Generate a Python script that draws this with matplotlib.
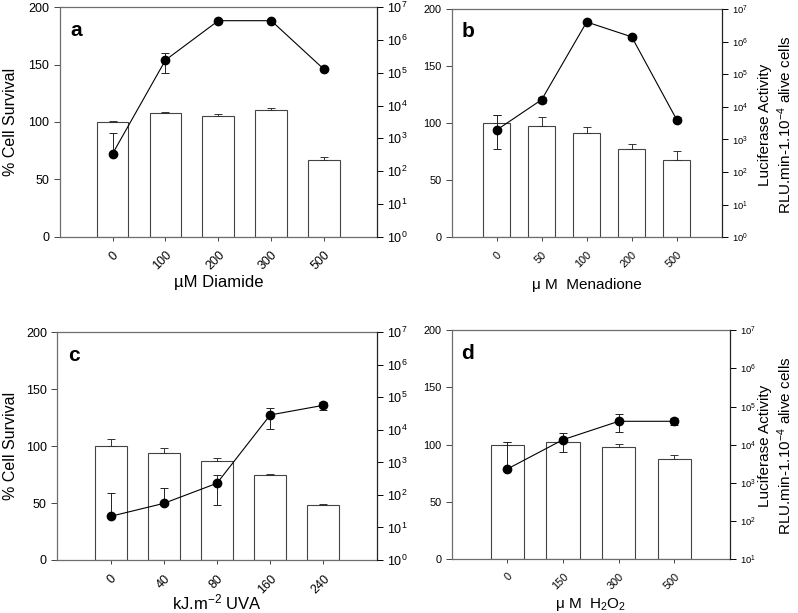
import numpy as np
import matplotlib
matplotlib.use("Agg")
import matplotlib.pyplot as plt
from matplotlib.ticker import LogLocator, NullLocator
from matplotlib.transforms import blended_transform_factory

plt.rcParams['font.family'] = ['Liberation Sans', 'DejaVu Sans']
plt.rcParams['mathtext.fontset'] = 'custom'
plt.rcParams['mathtext.rm'] = 'Liberation Sans'
plt.rcParams['mathtext.it'] = 'Liberation Sans:italic'
plt.rcParams['mathtext.bf'] = 'Liberation Sans:bold'

# ---------------- data ----------------
a_labels = ["0", "100", "200", "300", "500"]
a_surv = [100, 107.5, 105, 110.5, 67]
a_surv_err = [1.3, 1.0, 1.7, 1.5, 2.6]
a_luc = [340, 2.45e5, 3.9e6, 3.9e6, 1.27e5]
a_luc_hi = [1450, 3.9e5, 3.9e6, 3.9e6, 1.27e5]
a_luc_lo = [340, 9.8e4, 3.9e6, 3.9e6, 1.27e5]

b_labels = ["0", "50", "100", "200", "500"]
b_surv = [100, 97.5, 91.5, 77, 68]
b_surv_err = [7, 7.5, 5, 4.5, 8]
b_luc = [1950, 16600, 4.0e6, 1.4e6, 4050]
b_luc_hi = [5500, 20400, 4.3e6, 1.62e6, 4800]
b_luc_lo = [500, 13200, 3.7e6, 1.17e6, 3470]

c_labels = ["0", "40", "80", "160", "240"]
c_surv = [100, 94.3, 87.2, 74.4, 48.3]
c_surv_err = [6, 3.8, 2.7, 1.4, 1.2]
c_luc = [22, 55, 229, 28800, 57000]
c_luc_hi = [117, 158, 398, 46800, 74000]
c_luc_lo = [22, 48, 48, 10500, 40700]

d_labels = ["0", "150", "300", "500"]
d_surv = [100, 102, 97.7, 87.8]
d_surv_err = [2.3, 1.5, 2.9, 3.2]
d_luc = [2300, 13500, 41000, 41000]
d_luc_hi = [11700, 20400, 63000, 51000]
d_luc_lo = [2300, 6300, 21000, 33000]

W, H = 798, 613
fig = plt.figure(figsize=(W / 100, H / 100), dpi=100)


def px_axes(left, right, top, bottom):
    return fig.add_axes([left / W, (H - bottom) / H, (right - left) / W, (bottom - top) / H])


def panel(rect, letter, labels, surv, surv_err, luc, luc_hi, luc_lo, xlabel, xlabel_top,
          ymin_exp, small, left_label, right_label_y):
    ax = px_axes(*rect)
    n = len(labels)
    x = np.arange(n)
    tick_fs = 7.8 if small else 9
    rtick_fs = 6.8 if small else 9
    ax.bar(x, surv, width=0.6, color='white', edgecolor='#444444', linewidth=0.8, zorder=2)
    ax.errorbar(x, surv, yerr=[np.zeros(n), surv_err], fmt='none', ecolor='#333333',
                elinewidth=0.7, capsize=3, capthick=0.7, zorder=3)
    ax.set_xlim(-1, n)
    ax.set_ylim(0, 200)
    ax.set_yticks([0, 50, 100, 150, 200])
    ax.set_xticks(x)
    ax.set_xticklabels(labels, rotation=45, ha='right', rotation_mode='anchor', fontsize=tick_fs)
    ax.tick_params(axis='y', labelsize=tick_fs, direction='out', length=4, width=0.7, color='#444444')
    ax.tick_params(axis='x', direction='out', length=3, width=0.7, color='#444444', pad=6)
    for s in ['left', 'top', 'bottom']:
        ax.spines[s].set_color('#6e6e6e')
        ax.spines[s].set_linewidth(0.9)
    ax.spines['right'].set_visible(False)
    ax.set_xlabel(xlabel, fontsize=12 if not small else 11, va='top')
    ax.xaxis.set_label_coords(0.5, (H - xlabel_top) / H,
                              transform=blended_transform_factory(ax.transAxes, fig.transFigure))
    if left_label:
        ax.set_ylabel('% Cell Survival', fontsize=11.5, va='center')
        ax.yaxis.set_label_coords(11 / W, 0.5,
                                  transform=blended_transform_factory(fig.transFigure, ax.transAxes))
    ax.text(0.035, 0.9, letter, transform=ax.transAxes, fontsize=15, fontweight='bold',
            va='center', ha='left')

    ax2 = ax.twinx()
    ax2.set_yscale('log')
    ax2.set_ylim(10 ** ymin_exp, 1e7)
    ax2.yaxis.set_major_locator(LogLocator(base=10, numticks=12))
    ax2.yaxis.set_minor_locator(NullLocator())
    luc = np.array(luc, float)
    hi = np.array(luc_hi, float)
    lo = np.array(luc_lo, float)
    ax2.plot(x, luc, color='black', linewidth=0.8, zorder=4)
    ax2.errorbar(x, luc, yerr=[luc - lo, hi - luc], fmt='o', color='black', markersize=6,
                 ecolor='#222222', elinewidth=0.7, capsize=3, capthick=0.7, zorder=5)
    for s in ['left', 'top', 'bottom']:
        ax2.spines[s].set_visible(False)
    ax2.spines['right'].set_color('#222222')
    ax2.spines['right'].set_linewidth(0.9)
    ax2.tick_params(axis='y', labelsize=rtick_fs, direction='out', length=4, width=0.7)
    if right_label_y is not None:
        fig.text(776 / W, (H - right_label_y) / H,
                 'Luciferase Activity\nRLU.min-1.10$^{-4}$ alive cells',
                 rotation=90, ha='center', va='center', multialignment='center',
                 fontsize=11, linespacing=1.25)
    return ax, ax2


panel((59.7, 377, 7.3, 236.7), 'a', a_labels, a_surv, a_surv_err, a_luc, a_luc_hi, a_luc_lo,
      'µM Diamide', 275, 0, False, True, None)
panel((451.7, 721.7, 9, 237.3), 'b', b_labels, b_surv, b_surv_err, b_luc, b_luc_hi, b_luc_lo,
      'μ M  Menadione', 278, 0, True, False, 125)
panel((57.3, 376.7, 332.3, 560), 'c', c_labels, c_surv, c_surv_err, c_luc, c_luc_hi, c_luc_lo,
      'kJ.m$^{-2}$ UVA', 593, 0, False, True, None)
panel((451.7, 730, 330.3, 559), 'd', d_labels, d_surv, d_surv_err, d_luc, d_luc_hi, d_luc_lo,
      'μ M  H$_{2}$O$_{2}$', 596, 1, True, False, 446)

fig.savefig('out.png', dpi=100)
